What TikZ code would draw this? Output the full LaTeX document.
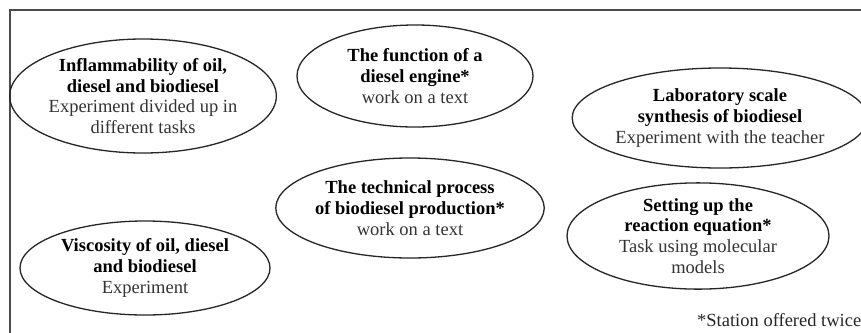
\documentclass[tikz,border=0pt]{standalone}
\usepackage{fontspec}
\setmainfont{Liberation Serif}
\usetikzlibrary{shapes.geometric}
\tikzset{
  station/.style={ellipse, draw=black!85, line width=1.3bp, inner sep=0pt,
    align=center, text=black!80,
    font=\fontsize{18.5bp}{20.7bp}\selectfont},
  frame/.style={draw=black!70, line width=1.6bp},
  note/.style={anchor=base west, inner sep=0pt, text=black!85,
    font=\fontsize{18.5bp}{20.7bp}\selectfont}
}
\newcommand{\ttl}[1]{\textbf{\color{black}#1}}
\begin{document}
\begin{tikzpicture}[x=1bp, y=-1bp]
  \useasboundingbox (0,0) rectangle (861,332);
  \clip (0,0) rectangle (861,332);
  \fill[white] (0,0) rectangle (861,332);
  % outer frame, running past the right and bottom edges
  \draw[frame] (10,10) rectangle (900,360);

  % stations
  \node[station, minimum width=232bp, minimum height=114bp] (inflam) at (143,96)
    {\ttl{Inflammability of oil,}\\ \ttl{diesel and biodiesel}\\ Experiment divided up in\\ different tasks};
  \node[station, minimum width=236bp, minimum height=102bp] (engine) at (415,76)
    {\ttl{The function of a}\\ \ttl{diesel engine*}\\ work on a text};
  \node[station, minimum width=264bp, minimum height=100bp] (lab) at (720,118)
    {\ttl{Laboratory scale}\\ \ttl{synthesis of biodiesel}\\ Experiment with the teacher};
  \node[station, minimum width=258bp, minimum height=100bp] (process) at (410,208)
    {\ttl{The technical process}\\ \ttl{of biodiesel production*}\\ work on a text};
  \node[station, minimum width=250bp, minimum height=94bp] (visc) at (145,268)
    {\ttl{Viscosity of oil, diesel}\\ \ttl{and biodiesel}\\ Experiment};
  \node[station, minimum width=262bp, minimum height=104bp] (equation) at (698,236)
    {\ttl{Setting up the}\\ \ttl{reaction equation*}\\ Task using molecular\\ models};

  % footnote
  \node[note] (twice) at (697,326) {*Station offered twice};
\end{tikzpicture}
\end{document}
